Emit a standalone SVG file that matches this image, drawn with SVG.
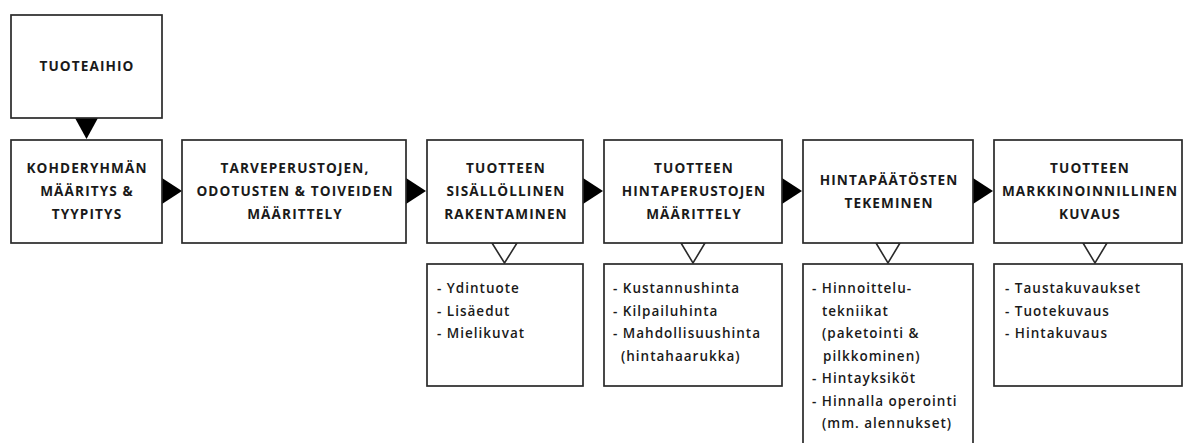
<svg xmlns="http://www.w3.org/2000/svg" width="1186" height="443" viewBox="0 0 1186 443">
<style>
.box{fill:#fff;stroke:#2a2a2a;stroke-width:1.7}
.h{font-family:"Open Sans","Liberation Sans",sans-serif;font-size:13.6px;font-weight:700;letter-spacing:1.1px;fill:#1a1a1a;text-anchor:middle}
.l{font-family:"Open Sans","Liberation Sans",sans-serif;font-size:13.5px;font-weight:600;letter-spacing:1px;fill:#1a1a1a}
.fa{fill:#000;stroke:none}
.ha{fill:#fff;stroke:#2a2a2a;stroke-width:1.6;stroke-linejoin:miter}
</style>
<rect width="1186" height="443" fill="#fff"/>
<g id="connectors">
<polygon class="fa" points="75,118 98,118 86.5,139"/>
<polygon class="fa" points="162,178 182,191 162,204"/>
<polygon class="fa" points="406,178 426,191 406,204"/>
<polygon class="fa" points="583,178 603,191 583,204"/>
<polygon class="fa" points="782,178 802,191 782,204"/>
<polygon class="fa" points="973,178 993,191 973,204"/>
<polygon class="ha" points="492,243 517,243 504.5,263"/>
<polygon class="ha" points="681,243 705,243 693,263"/>
<polygon class="ha" points="876,243 900,243 888,263"/>
<polygon class="ha" points="1083,243 1107,243 1095,263"/>
</g>
<g id="n-tuoteaihio">
<rect class="box" x="11" y="15" width="151" height="103"/>
<text class="h" x="87" y="71">TUOTEAIHIO</text>
</g>
<g id="n-kohderyhma">
<rect class="box" x="11" y="140" width="151" height="103"/>
<text class="h" x="87" y="173">KOHDERYHMÄN</text>
<text class="h" x="87" y="196">MÄÄRITYS &amp;</text>
<text class="h" x="87" y="219">TYYPITYS</text>
</g>
<g id="n-tarveperustat">
<rect class="box" x="182" y="140" width="224" height="103"/>
<text class="h" x="295" y="173">TARVEPERUSTOJEN,</text>
<text class="h" x="295" y="196">ODOTUSTEN &amp; TOIVEIDEN</text>
<text class="h" x="295" y="219">MÄÄRITTELY</text>
</g>
<g id="n-sisalto">
<rect class="box" x="427" y="140" width="156" height="103"/>
<text class="h" x="506" y="173">TUOTTEEN</text>
<text class="h" x="506" y="196">SISÄLLÖLLINEN</text>
<text class="h" x="506" y="219">RAKENTAMINEN</text>
</g>
<g id="n-hintaperusteet">
<rect class="box" x="604" y="140" width="178" height="103"/>
<text class="h" x="694" y="173">TUOTTEEN</text>
<text class="h" x="694" y="196">HINTAPERUSTOJEN</text>
<text class="h" x="694" y="219">MÄÄRITTELY</text>
</g>
<g id="n-hintapaatokset">
<rect class="box" x="803" y="140" width="170" height="103"/>
<text class="h" x="889" y="185">HINTAPÄÄTÖSTEN</text>
<text class="h" x="889" y="208">TEKEMINEN</text>
</g>
<g id="n-markkinointi">
<rect class="box" x="994" y="140" width="188" height="103"/>
<text class="h" x="1090" y="173">TUOTTEEN</text>
<text class="h" x="1090" y="196">MARKKINOINNILLINEN</text>
<text class="h" x="1090" y="219">KUVAUS</text>
</g>
<g id="n-sisalto-lista">
<rect class="box" x="427" y="264" width="156" height="122"/>
<text class="l" x="437" y="293">- Ydintuote</text>
<text class="l" x="437" y="316">- Lisäedut</text>
<text class="l" x="437" y="338">- Mielikuvat</text>
</g>
<g id="n-hinta-lista">
<rect class="box" x="604" y="264" width="178" height="122"/>
<text class="l" x="613" y="293">- Kustannushinta</text>
<text class="l" x="613" y="316">- Kilpailuhinta</text>
<text class="l" x="613" y="338">- Mahdollisuushinta</text>
<text class="l" x="621" y="361">(hintahaarukka)</text>
</g>
<g id="n-paatos-lista">
<rect class="box" x="803" y="264" width="170" height="185"/>
<text class="l" x="812" y="293">- Hinnoittelu-</text>
<text class="l" x="822" y="316">tekniikat</text>
<text class="l" x="822" y="338">(paketointi &amp;</text>
<text class="l" x="823" y="361">pilkkominen)</text>
<text class="l" x="812" y="383">- Hintayksiköt</text>
<text class="l" x="812" y="406">- Hinnalla operointi</text>
<text class="l" x="822" y="428">(mm. alennukset)</text>
</g>
<g id="n-kuvaus-lista">
<rect class="box" x="994" y="264" width="188" height="122"/>
<text class="l" x="1005" y="293">- Taustakuvaukset</text>
<text class="l" x="1005" y="316">- Tuotekuvaus</text>
<text class="l" x="1005" y="338">- Hintakuvaus</text>
</g>
</svg>
